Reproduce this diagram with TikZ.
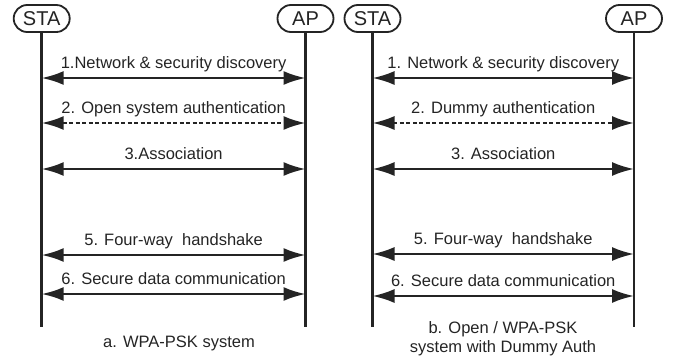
\documentclass[tikz,border=0pt]{standalone}
\usepackage{fontspec}
\setmainfont{Liberation Sans}
\usetikzlibrary{arrows.meta}

\definecolor{ink}{HTML}{242424}

\begin{document}
\begin{tikzpicture}[x=1pt,y=-1pt,>={Latex[length=22pt,width=14pt]},
  ent/.style={draw=ink,fill=white,line width=1.8pt,rounded corners=13.5pt,minimum width=56pt,minimum height=27pt,inner sep=0pt,font=\fontsize{20}{24}\selectfont,text=ink},
  life/.style={draw=ink,line width=2.6pt},
  msg/.style={draw=ink,line width=2.2pt,<->},
  lbl/.style={anchor=base,yshift=9.5pt,inner sep=0pt,font=\fontsize{16.5}{19}\selectfont,text=ink},
  captxt/.style={anchor=base,inner sep=0pt,align=center,font=\fontsize{16.5}{19}\selectfont,text=ink}]
\useasboundingbox (0,0) rectangle (673,362);
% a. WPA-PSK
\path node[ent] at (41.7,18.5) (s1) {STA};
\path node[ent] at (305.5,18.5) (a1) {AP};
\coordinate (s1e) at (41.7,327);
\coordinate (a1e) at (305.5,327);
\path[life] (s1) -- (s1e);
\path[life] (a1) -- (a1e);
\path (s1 |- 0,78) edge[msg] node[lbl] {1.Network \& security discovery} (a1 |- 0,78);
\path (s1 |- 0,123) edge[msg,dash pattern=on 4pt off 2.5pt] node[lbl] {2. Open system authentication} (a1 |- 0,123);
\path (s1 |- 0,169) edge[msg] node[lbl] {3.Association} (a1 |- 0,169);
\path (s1 |- 0,255) edge[msg] node[lbl] {5. Four-way\ \ handshake} (a1 |- 0,255);
\path (s1 |- 0,294) edge[msg] node[lbl] {6. Secure data communication} (a1 |- 0,294);
\path node[captxt] at (179,347) (ca) {a. WPA-PSK system};
% b. Open / WPA-PSK with dummy auth
\path node[ent] at (372.5,18.5) (s2) {STA};
\path node[ent] at (634,18.5) (a2) {AP};
\coordinate (s2e) at (372.5,327);
\coordinate (a2e) at (634,327);
\path[life] (s2) -- (s2e);
\path[life] (a2) -- (a2e);
\path (s2 |- 0,78) edge[msg] node[lbl] {1. Network \& security discovery} (a2 |- 0,78);
\path (s2 |- 0,123) edge[msg,dash pattern=on 4pt off 2.5pt] node[lbl] {2. Dummy authentication} (a2 |- 0,123);
\path (s2 |- 0,169) edge[msg] node[lbl] {3. Association} (a2 |- 0,169);
\path (s2 |- 0,254) edge[msg] node[lbl] {5. Four-way\ \ handshake} (a2 |- 0,254);
\path (s2 |- 0,296) edge[msg] node[lbl] {6. Secure data communication} (a2 |- 0,296);
\path node[captxt] at (503,352.7) (cb) {b. Open / WPA-PSK\\system with Dummy Auth};
\end{tikzpicture}
\end{document}
